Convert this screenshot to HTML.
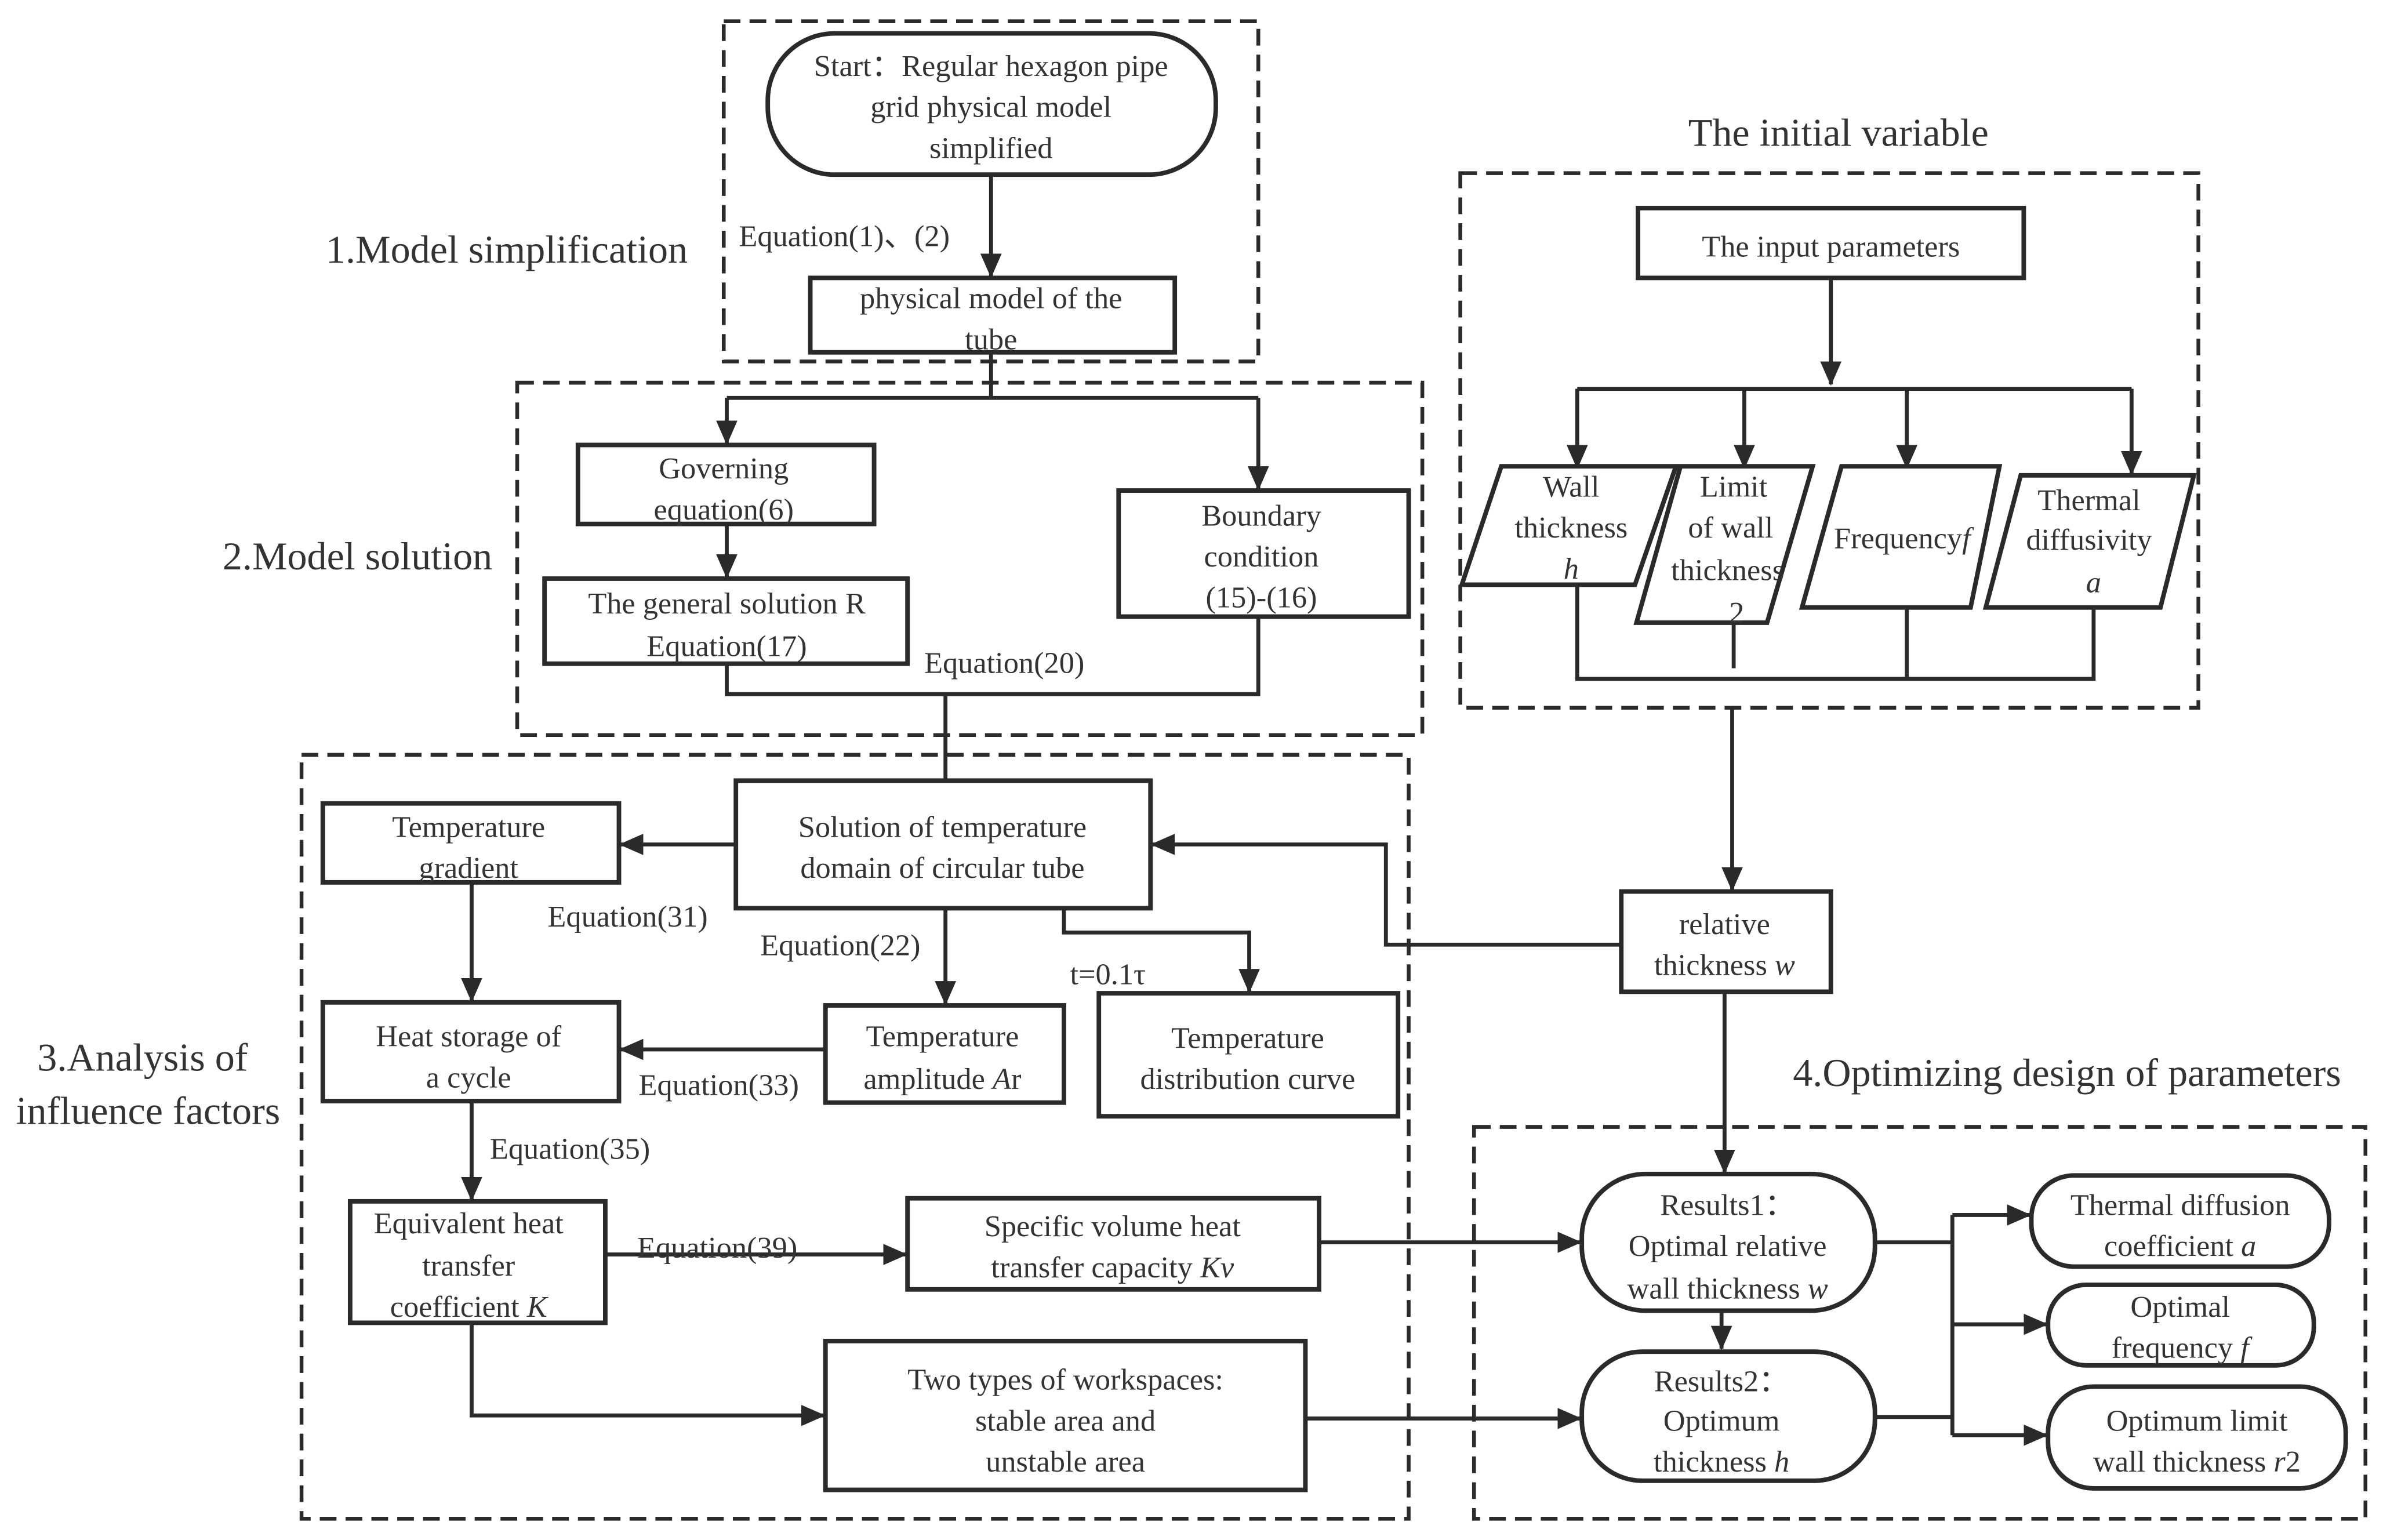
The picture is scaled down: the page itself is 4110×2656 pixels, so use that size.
<!DOCTYPE html>
<html><head><meta charset="utf-8"><style>
html,body{margin:0;padding:0;background:#fff;}
svg{display:block;}
text{font-family:"Liberation Serif","DejaVu Serif",serif;fill:#333;font-size:20px;text-anchor:middle;}
.b{fill:#fff;stroke:#2a2a2a;stroke-width:3;}
.d{fill:none;stroke:#2a2a2a;stroke-width:2.5;stroke-dasharray:11 6;}
.l{fill:none;stroke:#2a2a2a;stroke-width:2.6;}
.big{font-size:26px;text-anchor:start;}
.s{text-anchor:start;}
</style></head><body>
<svg width="4110" height="2656" viewBox="0 0 1568 1014" xmlns="http://www.w3.org/2000/svg" font-family="Liberation Serif, serif">
<defs><marker id="m" markerWidth="16" markerHeight="14" refX="15" refY="7" orient="auto" markerUnits="userSpaceOnUse"><path d="M0,0 L16,7 L0,14 z" fill="#2a2a2a"/></marker></defs>
<rect width="1568" height="1014" fill="#fff"/>
<rect class="d" x="476" y="14" width="352" height="224"/>
<rect class="d" x="340" y="252" width="596" height="232"/>
<rect class="d" x="198" y="497" width="729" height="503"/>
<rect class="d" x="961" y="114" width="486" height="352"/>
<rect class="d" x="970" y="742" width="587" height="258"/>
<text class="big" x="214" y="173">1.Model simplification</text>
<text class="big" x="146" y="375">2.Model solution</text>
<text class="big" x="24" y="705">3.Analysis of</text>
<text class="big" x="10" y="740">influence factors</text>
<text x="1210" y="96" style="font-size:26px">The initial variable</text>
<text class="big" x="1180" y="715">4.Optimizing design of parameters</text>
<rect class="b" x="505" y="22" width="295" height="93" rx="44"/>
<text x="652" y="50">Start：Regular hexagon pipe</text>
<text x="652" y="77">grid physical model</text>
<text x="652" y="104">simplified</text>
<path class="l" d="M652,115 V182" marker-end="url(#m)"/>
<text class="s" x="486" y="162">Equation(1)、(2)</text>
<rect class="b" x="533" y="183" width="240" height="49"/>
<text x="652" y="203">physical model of the</text>
<text x="652" y="230">tube</text>
<path class="l" d="M652,232 V262 M478,262 H828"/>
<path class="l" d="M478,262 V292" marker-end="url(#m)"/>
<path class="l" d="M828,262 V322" marker-end="url(#m)"/>
<rect class="b" x="380" y="293" width="195" height="52"/>
<text x="476" y="315">Governing</text><text x="476" y="342">equation(6)</text>
<path class="l" d="M478,345 V380" marker-end="url(#m)"/>
<rect class="b" x="358" y="381" width="239" height="56"/>
<text x="478" y="404">The general solution R</text><text x="478" y="432">Equation(17)</text>
<rect class="b" x="736" y="323" width="191" height="83"/>
<text x="830" y="346">Boundary</text><text x="830" y="373">condition</text><text x="830" y="400">(15)-(16)</text>
<path class="l" d="M478,437 V457 H828 V406 M622,457 V513"/>
<text class="s" x="608" y="443">Equation(20)</text>
<rect class="b" x="484" y="514" width="273" height="84"/>
<text x="620" y="551">Solution of temperature</text><text x="620" y="578">domain of circular tube</text>
<path class="l" d="M484,556 H408" marker-end="url(#m)"/>
<rect class="b" x="212" y="529" width="195" height="52"/>
<text x="308" y="551">Temperature</text><text x="308" y="578">gradient</text>
<text class="s" x="360" y="610">Equation(31)</text>
<path class="l" d="M310,581 V659" marker-end="url(#m)"/>
<rect class="b" x="212" y="660" width="195" height="65"/>
<text x="308" y="689">Heat storage of</text><text x="308" y="716">a cycle</text>
<path class="l" d="M622,598 V661" marker-end="url(#m)"/>
<text class="s" x="500" y="629">Equation(22)</text>
<rect class="b" x="543" y="662" width="157" height="64"/>
<text x="620" y="689">Temperature</text><text x="620" y="717">amplitude <tspan font-style="italic">A</tspan>r</text>
<path class="l" d="M543,691 H408" marker-end="url(#m)"/>
<text class="s" x="420" y="721">Equation(33)</text>
<path class="l" d="M700,598 V614 H822 V653" marker-end="url(#m)"/>
<text class="s" x="704" y="648">t=0.1τ</text>
<rect class="b" x="723" y="654" width="197" height="81"/>
<text x="821" y="690">Temperature</text><text x="821" y="717">distribution curve</text>
<path class="l" d="M310,725 V790" marker-end="url(#m)"/>
<text class="s" x="322" y="763">Equation(35)</text>
<rect class="b" x="230" y="791" width="168" height="80"/>
<text x="308" y="812">Equivalent heat</text><text x="308" y="840">transfer</text><text x="308" y="867">coefficient <tspan font-style="italic">K</tspan></text>
<path class="l" d="M398,826 H596" marker-end="url(#m)"/>
<text class="s" x="419" y="828">Equation(39)</text>
<rect class="b" x="597" y="789" width="271" height="60"/>
<text x="732" y="814">Specific volume heat</text><text x="732" y="841">transfer capacity <tspan font-style="italic">Kv</tspan></text>
<path class="l" d="M310,871 V932 H542" marker-end="url(#m)"/>
<rect class="b" x="543" y="883" width="316" height="98"/>
<text x="701" y="915">Two types of workspaces:</text><text x="701" y="942">stable area and</text><text x="701" y="969">unstable area</text>
<rect class="b" x="1078" y="137" width="254" height="46"/>
<text x="1205" y="169">The input parameters</text>
<path class="l" d="M1205,183 V253" marker-end="url(#m)"/>
<path class="l" d="M1038,256 H1403"/>
<path class="l" d="M1038,256 V308" marker-end="url(#m)"/>
<path class="l" d="M1148,256 V308" marker-end="url(#m)"/>
<path class="l" d="M1255,256 V308" marker-end="url(#m)"/>
<path class="l" d="M1403,256 V312" marker-end="url(#m)"/>
<polygon class="b" points="988,307 1103,307 1076,385 962,385"/>
<text x="1034" y="327">Wall</text><text x="1034" y="354">thickness</text><text x="1034" y="381" font-style="italic">h</text>
<polygon class="b" points="1106,307 1193,307 1163,410 1077,410"/>
<text x="1141" y="327">Limit</text><text x="1139" y="354">of wall</text><text x="1137" y="382">thickness</text><text x="1143" y="410">2</text>
<polygon class="b" points="1212,307 1316,307 1297,400 1186,400"/>
<text x="1252" y="361">Frequency<tspan font-style="italic">f</tspan></text>
<polygon class="b" points="1330,313 1444,313 1422,400 1307,400"/>
<text x="1375" y="336">Thermal</text><text x="1375" y="362">diffusivity</text><text x="1378" y="390" font-style="italic">a</text>
<path class="l" d="M1038,385 V447 H1378 V400 M1141,410 V440 M1255,400 V447"/>
<path class="l" d="M1140,466 V586" marker-end="url(#m)"/>
<rect class="b" x="1067" y="587" width="138" height="66"/>
<text x="1135" y="615">relative</text><text x="1135" y="642">thickness <tspan font-style="italic">w</tspan></text>
<path class="l" d="M1067,622 H912 V556 H758" marker-end="url(#m)"/>
<path class="l" d="M1135,653 V772" marker-end="url(#m)"/>
<rect class="b" x="1041" y="773" width="193" height="90" rx="42"/>
<text x="1137" y="800">Results1：</text><text x="1137" y="827">Optimal relative</text><text x="1137" y="855">wall thickness <tspan font-style="italic">w</tspan></text>
<path class="l" d="M1133,863 V888" marker-end="url(#m)"/>
<rect class="b" x="1041" y="890" width="193" height="85" rx="40"/>
<text x="1133" y="916">Results2：</text><text x="1133" y="942">Optimum</text><text x="1133" y="969">thickness <tspan font-style="italic">h</tspan></text>
<path class="l" d="M868,818 H1040" marker-end="url(#m)"/>
<path class="l" d="M859,934 H1040" marker-end="url(#m)"/>
<path class="l" d="M1234,818 H1285 M1234,933 H1285 M1285,800 V945"/>
<path class="l" d="M1285,800 H1336" marker-end="url(#m)"/>
<path class="l" d="M1285,872 H1347" marker-end="url(#m)"/>
<path class="l" d="M1285,945 H1347" marker-end="url(#m)"/>
<rect class="b" x="1337" y="774" width="196" height="60" rx="28"/>
<text x="1435" y="800">Thermal diffusion</text><text x="1435" y="827">coefficient <tspan font-style="italic">a</tspan></text>
<rect class="b" x="1348" y="846" width="175" height="53" rx="25"/>
<text x="1435" y="867">Optimal</text><text x="1435" y="894">frequency <tspan font-style="italic">f</tspan></text>
<rect class="b" x="1348" y="913" width="196" height="67" rx="30"/>
<text x="1446" y="942">Optimum limit</text><text x="1446" y="969">wall thickness <tspan font-style="italic">r</tspan>2</text>
</svg>
</body></html>
